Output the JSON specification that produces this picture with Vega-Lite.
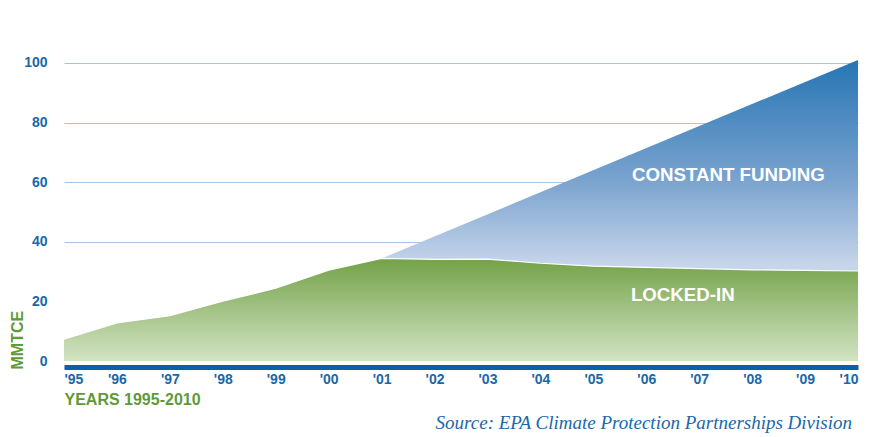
{
  "$schema": "https://vega.github.io/schema/vega-lite/v6.json",
  "autosize": {"type": "none"},
  "padding": {"left": 64, "top": 48, "right": 13, "bottom": 76},
  "width": 794,
  "height": 313,
  "background": "white",
  "title": {
    "text": "Source: EPA Climate Protection Partnerships Division",
    "orient": "bottom",
    "anchor": "end",
    "frame": "group",
    "offset": 7,
    "dx": -6,
    "font": "Liberation Serif",
    "fontStyle": "italic",
    "fontWeight": "normal",
    "fontSize": 19,
    "color": "#1a68a8"
  },
  "config": {
    "view": {"stroke": null},
    "font": "Liberation Sans"
  },
  "datasets": {
    "lockedIn": [
      {"year": 1995, "mmtce": 7.3},
      {"year": 1996, "mmtce": 12.8},
      {"year": 1997, "mmtce": 15.2},
      {"year": 1998, "mmtce": 20.1},
      {"year": 1999, "mmtce": 24.4},
      {"year": 2000, "mmtce": 30.5},
      {"year": 2001, "mmtce": 34.4},
      {"year": 2002, "mmtce": 34.1},
      {"year": 2003, "mmtce": 34.2},
      {"year": 2004, "mmtce": 32.8},
      {"year": 2005, "mmtce": 31.8},
      {"year": 2006, "mmtce": 31.4},
      {"year": 2007, "mmtce": 31.0},
      {"year": 2008, "mmtce": 30.6},
      {"year": 2009, "mmtce": 30.4},
      {"year": 2010, "mmtce": 30.2}
    ],
    "constantFunding": [
      {"year": 2001, "mmtce": 34.4},
      {"year": 2010, "mmtce": 101.0}
    ],
    "areaLabels": [
      {"label": "CONSTANT FUNDING", "year": 2007.55, "mmtce": 62.4},
      {"label": "LOCKED-IN", "year": 2006.69, "mmtce": 22.1}
    ]
  },
  "encoding": {
    "x": {
      "field": "year",
      "type": "quantitative",
      "scale": {"domain": [1995, 2010], "nice": false, "zero": false},
      "axis": {
        "title": "YEARS 1995-2010",
        "values": [1995, 1996, 1997, 1998, 1999, 2000, 2001, 2002, 2003, 2004, 2005, 2006, 2007, 2008, 2009, 2010],
        "format": "d",
        "labelExpr": "\"'\" + substring(datum.label, 2, 4)",
        "labelFlush": true,
        "labelFont": "Liberation Sans",
        "labelFontWeight": "bold",
        "labelFontSize": 14,
        "labelColor": "#1a68a8",
        "labelPadding": 5,
        "ticks": false,
        "grid": false,
        "offset": 6,
        "domainColor": "#0a62a6",
        "domainWidth": 5,
        "titleFont": "Liberation Sans",
        "titleFontWeight": "bold",
        "titleFontSize": 16,
        "titleColor": "#5f9a37",
        "titleAnchor": "start",
        "titleAlign": "left",
        "titlePadding": 5
      }
    },
    "y": {
      "field": "mmtce",
      "type": "quantitative",
      "scale": {"domain": [0, 105], "nice": false},
      "axis": {
        "title": "MMTCE",
        "values": [0, 20, 40, 60, 80, 100],
        "domain": false,
        "ticks": false,
        "labelFont": "Liberation Sans",
        "labelFontWeight": "bold",
        "labelFontSize": 14,
        "labelColor": "#1a68a8",
        "labelPadding": 17,
        "gridColor": {"condition": {"test": "datum.value < 30", "value": "transparent"}, "value": "#a6c3e2"},
        "gridWidth": 1,
        "titleFont": "Liberation Sans",
        "titleFontWeight": "bold",
        "titleFontSize": 16,
        "titleColor": "#5f9a37",
        "titleAlign": "left",
        "titleBaseline": "bottom",
        "titleAngle": -90,
        "titleX": -39,
        "titleY": 321
      }
    }
  },
  "layer": [
    {
      "data": {"name": "constantFunding"},
      "mark": {
        "type": "area",
        "color": {
          "gradient": "linear",
          "x1": 0, "y1": 0, "x2": 0, "y2": 1,
          "stops": [
            {"offset": 0, "color": "#2675b4"},
            {"offset": 0.4, "color": "#7aa3cf"},
            {"offset": 0.68, "color": "#c6d5ea"},
            {"offset": 1, "color": "#c6d5ea"}
          ]
        }
      }
    },
    {
      "data": {"name": "lockedIn"},
      "mark": {
        "type": "area",
        "color": {
          "gradient": "linear",
          "x1": 0, "y1": 0, "x2": 0, "y2": 1,
          "stops": [
            {"offset": 0, "color": "#73a247"},
            {"offset": 1, "color": "#d3e3c4"}
          ]
        }
      }
    },
    {
      "data": {"name": "lockedIn"},
      "mark": {"type": "line", "color": "white", "strokeWidth": 1.2}
    },
    {
      "data": {"name": "areaLabels"},
      "mark": {
        "type": "text",
        "font": "Liberation Sans",
        "fontWeight": "bold",
        "fontSize": 18.7,
        "color": "white",
        "align": "center",
        "baseline": "middle"
      },
      "encoding": {"text": {"field": "label"}}
    },
    {
      "data": {"values": [{}]},
      "mark": {"type": "rule", "color": "#1e6fae", "strokeWidth": 3, "clip": false},
      "encoding": {
        "x": {"datum": 1993.7},
        "x2": {"datum": 2010.3},
        "y": {"datum": 119.6}
      }
    }
  ]
}
